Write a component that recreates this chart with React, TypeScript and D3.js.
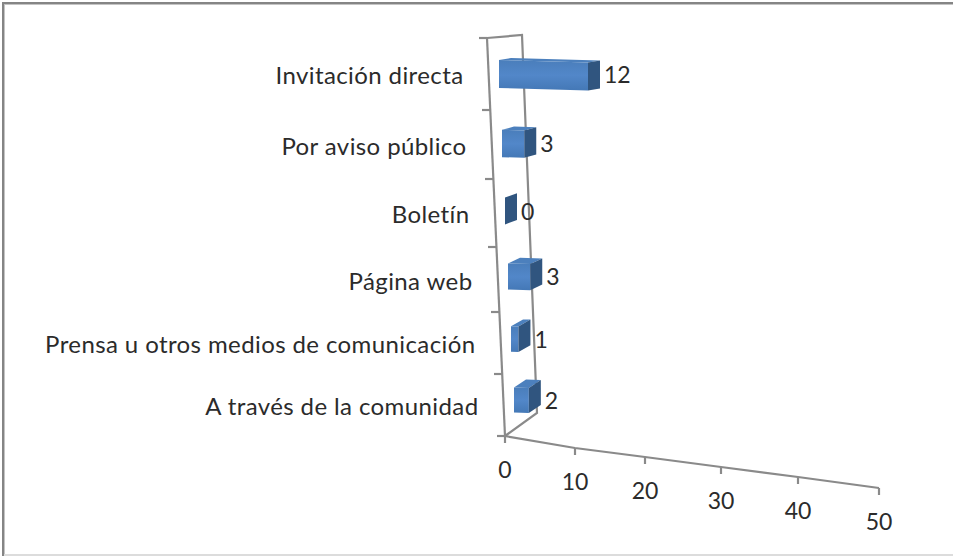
import React from "react";
import * as d3 from "d3";

const categories = [
  "Invitación directa",
  "Por aviso público",
  "Boletín",
  "Página web",
  "Prensa u otros medios de comunicación",
  "A través de la comunidad",
];
const values = [12, 3, 0, 3, 1, 2];
const xTicks = [0, 10, 20, 30, 40, 50];
const catEdges = [0, 1, 2, 3, 4, 5, 6];

const W = 953;
const H = 556;
const AXIS = "#8a8a8a";
const TEXT = "#2b2b2b";
const FONT = "Lato, 'Open Sans', sans-serif";
const FS = 23;

// Oblique projection of the 3-D chart, expressed as scales
const edgeY = d3.scaleLinear().domain(catEdges).range([38, 110, 179, 247, 312, 374, 436]);
const edgeX = d3.scaleLinear().domain([0, 6]).range([487, 505]);
const axisX = d3.scaleLinear().domain(xTicks).range([505, 575, 645, 721, 798, 879]);
const axisY = d3.scaleLinear().domain(xTicks).range([436, 448, 457, 467, 477, 488]);
const valueW = d3.scaleLinear().domain([0, 12]).range([0, 89]);
const sideDy = d3.scaleLinear().domain([0, 5]).range([2, 8]);
const centreShift = d3.scaleLinear().domain([0, 5]).range([0, 5]);
const barH = d3.scaleLinear().domain([0, 5]).range([28, 25]);

const path = d3.line<[number, number]>();
const poly = (pts: [number, number][]) => (path(pts) ?? "") + "Z";

const backTop: [number, number] = [522, 35];
const backBottom: [number, number] = [537, 413];

export default function App() {
  const bars = values.map((v, i) => {
    const cy = edgeY(i + 0.5) - centreShift(i);
    const left = edgeX(i + 0.5) + 10.5;
    const right = left + valueW(v);
    const h = barH(i);
    const slope = v * 0.2;
    const dx = 12;
    const dy = sideDy(i);
    const tl: [number, number] = [left, cy - h / 2];
    const bl: [number, number] = [left, cy + h / 2];
    const tr: [number, number] = [right, cy - h / 2 + slope];
    const br: [number, number] = [right, cy + h / 2 + slope];
    const tr2: [number, number] = [right + dx, tr[1] - dy];
    const br2: [number, number] = [right + dx, br[1] - dy];
    const tl2: [number, number] = [left + dx, tl[1] - dy];
    return { v, i, cy, tl, bl, tr, br, tr2, br2, tl2 };
  });

  return (
    <svg
      width={W}
      height={H}
      viewBox={`0 0 ${W} ${H}`}
      style={{ position: "absolute", left: 0, top: 0, display: "block", background: "#fff" }}
    >
      <defs>
        <linearGradient id="front" x1="0" y1="0" x2="0" y2="1">
          <stop offset="0" stopColor="#4a7ebb" />
          <stop offset="0.5" stopColor="#5287c9" />
          <stop offset="1" stopColor="#4478b6" />
        </linearGradient>
      </defs>

      {/* outer frame */}
      <rect x={2} y={2} width={W - 2} height={2} fill="#858585" />
      <rect x={2} y={4} width={W - 2} height={1} fill="#c4c4c4" />
      <rect x={2} y={2} width={2} height={H - 2} fill="#858585" />
      <rect x={4} y={4} width={1} height={H - 4} fill="#c4c4c4" />
      <rect x={4} y={H - 2} width={W - 4} height={2} fill="#dcdcdc" />

      {/* walls */}
      <g fill="none" stroke={AXIS} strokeWidth={2.2}>
        <path d={path([[edgeX(0), edgeY(0)], backTop, backBottom, [axisX(0), axisY(0)]]) ?? ""} />
        <path d={path([[edgeX(0), edgeY(0)], [edgeX(6), edgeY(6)]]) ?? ""} />
        <path d={path(xTicks.map((t) => [axisX(t), axisY(t)] as [number, number])) ?? ""} />
        {catEdges.map((c) => (
          <line key={c} x1={edgeX(c) - 8} x2={edgeX(c)} y1={edgeY(c)} y2={edgeY(c)} />
        ))}
        {xTicks.map((t) => (
          <line key={t} x1={axisX(t)} x2={axisX(t)} y1={axisY(t)} y2={axisY(t) + 7} />
        ))}
      </g>

      {/* bars */}
      {bars.map((b) => (
        <g key={b.i}>
          <path d={poly([b.tl, b.tr, b.tr2, b.tl2])} fill="#4c80bd" />
          <path d={poly([b.tl, b.tr, b.br, b.bl])} fill="url(#front)" />
          <path d={poly([b.tr, b.tr2, b.br2, b.br])} fill="#30557f" />
        </g>
      ))}

      {/* text */}
      <g fontFamily={FONT} fontSize={FS} fill={TEXT}>
        {categories.map((c, i) => (
          <text
            key={c}
            x={edgeX(i + 0.5) - 25}
            y={edgeY(i + 0.5) + 4}
            textAnchor="end"
            dominantBaseline="middle"
            fontSize={24}
            letterSpacing={0.4}
          >
            {c}
          </text>
        ))}
        {bars.map((b) => (
          <text key={b.i} x={b.tr2[0] + 4} y={b.cy + 3} dominantBaseline="middle">
            {b.v}
          </text>
        ))}
        {xTicks.map((t) => (
          <text key={t} x={axisX(t)} y={axisY(t) + 36} textAnchor="middle" dominantBaseline="middle">
            {t}
          </text>
        ))}
      </g>
    </svg>
  );
}
